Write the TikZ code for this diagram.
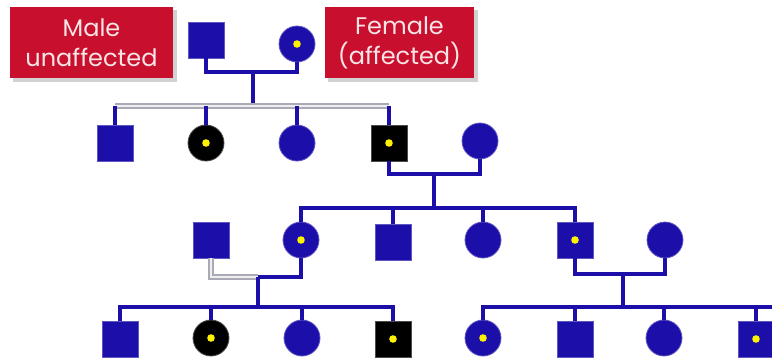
\documentclass[tikz,border=0pt]{standalone}
\usepackage{fontspec}
\setmainfont{Poppins}
\definecolor{pblue}{RGB}{28,14,168}
\definecolor{pred}{RGB}{200,16,46}
\definecolor{ptext}{RGB}{250,228,230}
\definecolor{pgrey}{RGB}{170,170,182}
\begin{document}
\begin{tikzpicture}[x=1pt,y=-1pt,
  male/.style={rectangle,minimum size=36pt,inner sep=0pt,fill=pblue,draw=pblue!70!white,line width=0.8pt},
  female/.style={circle,minimum size=36pt,inner sep=0pt,fill=pblue,draw=pblue!70!white,line width=0.8pt},
  dark/.style={fill=black,draw=black!70!white},
  dot/.style={path picture={\fill[yellow] (path picture bounding box.center) circle (3.8pt);}},
  link/.style={draw=pblue,line width=3.2pt},
  greylink/.style={draw=pgrey,line width=6pt},
  greyinner/.style={draw=white!80!pgrey,line width=2pt},
  label/.style={fill=pred,text=ptext,align=center,font=\fontsize{24}{30}\selectfont,inner sep=0pt,text width=#1},
]
\useasboundingbox (0,0) rectangle (772,360);
% legend boxes
\fill[black,opacity=0.18] (13,10) rectangle (177,82);
\fill[black,opacity=0.18] (328,10) rectangle (478,82);
\node[label=163pt,minimum height=71pt] (lm) at (91.5,42.5) {Male\\unaffected};
\node[label=149pt,minimum height=71pt] (lf) at (399.5,42.5) {Female\\(affected)};
% generation I
\node[male] (I1) at (206,40) {};
\node[female,dot] (I2) at (297,44) {};
% generation II
\node[male] (II1) at (115,143) {};
\node[female,dark,dot] (II2) at (206,143) {};
\node[female] (II3) at (297,143) {};
\node[male,dark,dot] (II4) at (389,143) {};
\node[female] (II5) at (480,141) {};
% generation III
\node[male] (III1) at (211,240) {};
\node[female,dot] (III2) at (301,240) {};
\node[male] (III3) at (393,242) {};
\node[female] (III4) at (483,240) {};
\node[male,dot] (III5) at (575,240) {};
\node[female] (III6) at (665,240) {};
% generation IV
\node[male] (IV1) at (120,339) {};
\node[female,dark,dot] (IV2) at (211,338) {};
\node[female] (IV3) at (302,338) {};
\node[male,dark,dot] (IV4) at (393,339) {};
\node[female,dot] (IV5) at (483,338) {};
\node[male] (IV6) at (575,339) {};
\node[female] (IV7) at (664,338) {};
\node[male,dot] (IV8) at (756,339) {};
% coordinates
\coordinate (m1) at (253,72);
\coordinate (s1) at (253,106);
\coordinate (m2) at (434,174);
\coordinate (s2) at (434,208);
\coordinate (m3) at (258,277);
\coordinate (s3) at (258,307);
\coordinate (m4) at (623,274);
\coordinate (s4) at (623,307);
\coordinate (e4) at (772,307);
% gen I couple and sibship
\draw[link] (I1.south) |- (m1) -| (I2.south);
\draw[link] (m1) -- (s1);
\draw[greylink] (II1.north |- s1) -- (II4.north |- s1);
\draw[greyinner] (II1.north |- s1) -- (II4.north |- s1);
\foreach \c in {II1,II2,II3,II4} \draw[link] (\c.north) -- (\c.north |- s1);
% gen II couple and sibship
\draw[link] (II4.south) |- (m2) -| (II5.south);
\draw[link] (m2) -- (s2);
\draw[link] (III2.north) -- (III2.north |- s2) -- (III5.north |- s2) -- (III5.north);
\foreach \c in {III3,III4} \draw[link] (\c.north) -- (\c.north |- s2);
% gen III left couple
\draw[greylink] (III1.south) |- (m3);
\draw[greyinner] (III1.south) |- (m3);
\draw[link] (m3) -| (III2.south);
\draw[link] (m3) -- (s3);
\draw[link] (IV1.north) -- (IV1.north |- s3) -- (IV4.north |- s3) -- (IV4.north);
\foreach \c in {IV2,IV3} \draw[link] (\c.north) -- (\c.north |- s3);
% gen III right couple
\draw[link] (III5.south) |- (m4) -| (III6.south);
\draw[link] (m4) -- (s4);
\draw[link] (IV5.north) -- (IV5.north |- s4) -- (e4);
\foreach \c in {IV6,IV7,IV8} \draw[link] (\c.north) -- (\c.north |- s4);
\end{tikzpicture}
\end{document}
